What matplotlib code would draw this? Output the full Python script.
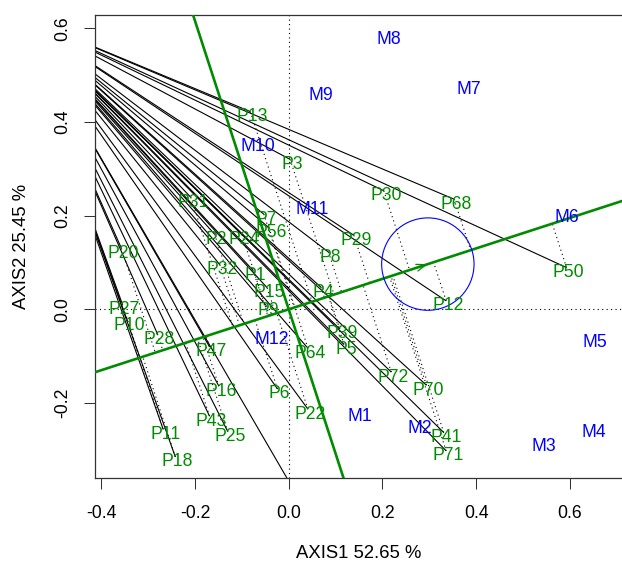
import matplotlib
matplotlib.use('Agg')
import matplotlib.pyplot as plt
from matplotlib.patches import Circle
import numpy as np

plt.rcParams['font.family'] = ['Liberation Sans', 'DejaVu Sans']

# ---------------- data ----------------
genotypes = ['P13', 'P3', 'P31', 'P7', 'P56', 'P2', 'P24', 'P20', 'P29', 'P8',
             'P32', 'P1', 'P15', 'P4', 'P27', 'P9', 'P10', 'P28', 'P39', 'P5',
             'P47', 'P64', 'P16', 'P6', 'P22', 'P43', 'P25', 'P11', 'P18', 'P30',
             'P68', 'P50', 'P12', 'P72', 'P70', 'P41', 'P71']
gen_x = [-0.082, 0.003, -0.209, -0.053, -0.042, -0.158, -0.100, -0.357, 0.139, 0.085,
         -0.147, -0.076, -0.046, 0.069, -0.355, -0.048, -0.345, -0.280, 0.109, 0.118,
         -0.169, 0.041, -0.149, -0.024, 0.041, -0.169, -0.130, -0.268, -0.242, 0.203,
         0.353, 0.593, 0.336, 0.219, 0.294, 0.331, 0.336]
gen_y = [0.422, 0.320, 0.239, 0.203, 0.174, 0.160, 0.160, 0.130, 0.158, 0.122,
         0.095, 0.083, 0.046, 0.047, 0.011, 0.008, -0.023, -0.053, -0.042, -0.075,
         -0.080, -0.083, -0.164, -0.170, -0.213, -0.228, -0.261, -0.256, -0.315, 0.253,
         0.235, 0.089, 0.018, -0.134, -0.162, -0.263, -0.302]

environments = ['M1', 'M2', 'M3', 'M4', 'M5', 'M6', 'M7', 'M8', 'M9', 'M10', 'M11', 'M12']
env_x = [0.151, 0.280, 0.545, 0.652, 0.654, 0.593, 0.385, 0.214, 0.069, -0.066, 0.051, -0.036]
env_y = [-0.229, -0.255, -0.292, -0.263, -0.071, 0.196, 0.470, 0.575, 0.457, 0.347, 0.213, -0.064]

avg_env = (0.297, 0.0965)        # average-environment coordinates (ATC)
circle_radius = 0.0986
ray_origin = (-0.578, 0.628)     # common origin of the solid genotype lines
offplot_ray_ends_x = [0.06]      # a line whose genotype lies outside the frame
offplot_ray_ends_y = [-0.47]

x_ticks = [-0.4, -0.2, 0.0, 0.2, 0.4, 0.6]
y_ticks = [-0.2, 0.0, 0.2, 0.4, 0.6]
x_label = 'AXIS1 52.65 %'
y_label = 'AXIS2 25.45 %'

# ---------------- style ----------------
GREEN = '#008B00'
BLUE = '#0000FF'
W, H = 622, 564
fig = plt.figure(figsize=(W / 100, H / 100), dpi=100)
left_px, right_px, top_px, bottom_px = 94.7, 623.5, 14.7, 478.3
ax = fig.add_axes([left_px / W, (H - bottom_px) / H,
                   (right_px - left_px) / W, (bottom_px - top_px) / H])
ax.set_xlim(-0.4141, 0.7146)
ax.set_ylim(-0.3607, 0.6288)

FS = 12.7

# solid lines from common origin to each genotype
all_end_x = list(gen_x) + offplot_ray_ends_x
all_end_y = list(gen_y) + offplot_ray_ends_y
for ex, ey in zip(all_end_x, all_end_y):
    ax.plot([ray_origin[0], ex], [ray_origin[1], ey], color='black', lw=0.8,
            solid_capstyle='butt', zorder=2)

# dotted projections onto ATC abscissa
d = np.array(avg_env)
for gx, gy in zip(gen_x, gen_y):
    p = np.array([gx, gy])
    proj = (p @ d) / (d @ d) * d
    ax.plot([gx, proj[0]], [gy, proj[1]], color='black', lw=0.8,
            linestyle=(0, (1, 3)), zorder=2)

# reference dotted axes
ax.axhline(0, color='black', lw=0.8, linestyle=(0, (1, 3)), zorder=1)
ax.axvline(0, color='black', lw=0.8, linestyle=(0, (1, 3)), zorder=1)

# ATC abscissa and ordinate
m1, m2 = avg_env
ax.axline((0, 0), slope=m2 / m1, color=GREEN, lw=1.9, zorder=3)
ax.axline((0, 0), slope=-m1 / m2, color=GREEN, lw=1.9, zorder=3)
ax.annotate('', xy=(m1, m2), xytext=(0, 0),
            arrowprops=dict(arrowstyle='->,head_length=0.7,head_width=0.25',
                            color=GREEN, lw=0.9, shrinkA=0, shrinkB=0,
                            mutation_scale=10), zorder=3)
ax.add_patch(Circle(avg_env, circle_radius, fill=False, edgecolor=BLUE, lw=0.8, zorder=3))

# labels
for name, gx, gy in zip(genotypes, gen_x, gen_y):
    ax.annotate(name, (gx, gy), xytext=(1.44, -3.6), textcoords='offset points',
                ha='center', va='center', color=GREEN, fontsize=FS, zorder=4,
                annotation_clip=True)
for name, ex, ey in zip(environments, env_x, env_y):
    ax.text(ex, ey, name, ha='center', va='center', color=BLUE, fontsize=FS, zorder=4)

# axes styling
ax.set_xticks(x_ticks)
ax.set_xticklabels([f'{v:.1f}' for v in x_ticks])
ax.set_yticks(y_ticks)
ax.set_yticklabels([f'{v:.1f}' for v in y_ticks], rotation=90, va='center')
ax.tick_params(axis='both', length=7.9, width=0.75, labelsize=FS, color='#333333')
ax.tick_params(axis='x', pad=11)
ax.tick_params(axis='y', pad=9)
for s in ax.spines.values():
    s.set_linewidth(0.9)
    s.set_color('#333333')

fig.text((left_px + right_px) / 2 / W, 1 - 554 / H, x_label, ha='center', va='center',
         fontsize=13.3)
fig.text(22 / W, 1 - (top_px + bottom_px) / 2 / H, y_label, ha='center', va='center',
         rotation=90, fontsize=13.3)

fig.savefig('out.png', dpi=100)
